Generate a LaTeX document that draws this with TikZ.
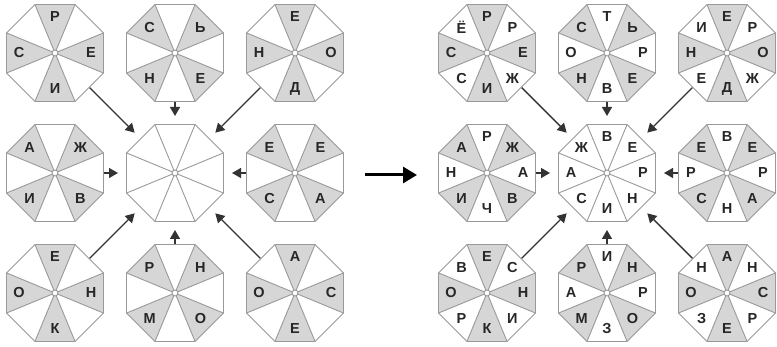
\documentclass[tikz,border=0pt]{standalone}
\usepackage{fontspec}
\setmainfont{Liberation Sans}
\usetikzlibrary{arrows.meta,calc}
\definecolor{SectorClr}{rgb}{0.84,0.84,0.84}
\definecolor{EdgeClr}{rgb}{0.6,0.6,0.6}
\definecolor{ArrowClr}{rgb}{0.2,0.2,0.2}
\tikzset{
  edge/.style={draw=EdgeClr,line width=0.9pt,line join=round},
  sector/.style={fill=SectorClr},
  letter/.style={font=\bfseries\fontsize{14.5}{14.5}\selectfont,text=black!85,inner sep=0pt},
  feed/.style={draw=ArrowClr,line width=1.4pt,-{Triangle[length=9pt,width=10pt]}},
  bigarrow/.style={draw=black,line width=3pt,-{Triangle[length=14pt,width=16pt]}}
}
\newcommand\octagon[4]{% name, centre, gray sectors, angle/letter
  \coordinate (#1) at (#2);
  \begin{scope}[shift={(#1)}]
    \def\graylist{#3}
    \ifx\graylist\empty\else
      \foreach \a in {#3} \fill[sector] (0,0) -- (\a-22.5:52.5) -- (\a+22.5:52.5) -- cycle;
    \fi
    \foreach \k in {0,...,7} \draw[edge] (0,0) -- (22.5+45*\k:52.5);
    \draw[edge] (22.5:52.5) -- (67.5:52.5) -- (112.5:52.5) -- (157.5:52.5) -- (202.5:52.5)
      -- (247.5:52.5) -- (292.5:52.5) -- (337.5:52.5) -- cycle;
    \draw[edge,fill=white] (0,0) circle (3);
    \foreach \a/\t in {#4} \node[letter] (#1-\a) at (\a:36) {\t};
  \end{scope}}

\begin{document}
\begin{tikzpicture}[x=1pt,y=1pt]
\useasboundingbox (0,0) rectangle (777,347);

\octagon{LTL}{55,294}{0,90,180,270}{90/Р,0/Е,270/И,180/С}
\octagon{LTM}{175,294}{45,135,225,315}{135/С,45/Ь,225/Н,315/Е}
\octagon{LTR}{295,294}{0,90,180,270}{90/Е,0/О,270/Д,180/Н}
\octagon{LML}{55,174}{45,135,225,315}{135/А,45/Ж,225/И,315/В}
\octagon{LC}{175,174}{}{}
\octagon{LMR}{295,174}{45,135,225,315}{135/Е,45/Е,225/С,315/А}
\octagon{LBL}{55,54}{0,90,180,270}{90/Е,0/Н,270/К,180/О}
\octagon{LBM}{175,54}{45,135,225,315}{135/Р,45/Н,225/М,315/О}
\octagon{LBR}{295,54}{0,90,180,270}{90/А,0/С,270/Е,180/О}

\octagon{RTL}{487,294}{0,90,180,270}{90/Р,45/Р,0/Е,315/Ж,270/И,225/С,180/С,135/Ё}
\octagon{RTM}{607,294}{45,135,225,315}{90/Т,45/Ь,0/Р,315/Е,270/В,225/Н,180/О,135/С}
\octagon{RTR}{727,294}{0,90,180,270}{90/Е,45/Р,0/О,315/Ж,270/Д,225/Е,180/Н,135/И}
\octagon{RML}{487,174}{45,135,225,315}{90/Р,45/Ж,0/А,315/В,270/Ч,225/И,180/Н,135/А}
\octagon{RC}{607,174}{}{90/В,45/Е,0/Р,315/Н,270/И,225/С,180/А,135/Ж}
\octagon{RMR}{727,174}{45,135,225,315}{90/В,45/Е,0/Р,315/А,270/Н,225/С,180/Р,135/Е}
\octagon{RBL}{487,54}{0,90,180,270}{90/Е,45/С,0/Н,315/И,270/К,225/Р,180/О,135/В}
\octagon{RBM}{607,54}{45,135,225,315}{90/И,45/Н,0/Р,315/О,270/З,225/М,180/А,135/Р}
\octagon{RBR}{727,54}{0,90,180,270}{90/А,45/Н,0/С,315/Р,270/Е,225/З,180/О,135/Н}

\foreach \s in {L,R}
  \foreach \n in {TL,TM,TR,ML,MR,BL,BM,BR}
    \draw[feed] ($(\s\n)!49pt!(\s C)$) -- ($(\s C)!57pt!(\s\n)$);

\coordinate (from) at (365,172);
\coordinate (to) at (417,172);
\draw[bigarrow] (from) -- (to);
\end{tikzpicture}
\end{document}
